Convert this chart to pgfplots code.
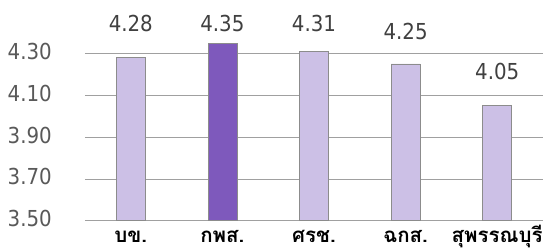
\documentclass[border=0pt]{standalone}
\usepackage{pgfplots}
\pgfplotsset{compat=1.18}
\usepackage{fontspec}
\setmainfont{DejaVu Sans Condensed}
\newfontfamily\thaifont[Script=Thai]{Loma}
\definecolor{lightbar}{RGB}{204,192,230}
\definecolor{darkbar}{RGB}{126,89,188}
\definecolor{tickgray}{RGB}{89,89,89}
\definecolor{valgray}{RGB}{64,64,64}
\definecolor{gridgray}{RGB}{160,160,160}
\begin{document}
\begin{tikzpicture}
\begin{axis}[
  at={(0,0)}, anchor=south west,
  scale only axis, width=458pt, height=209pt,
  xmin=-0.5, xmax=4.5, ymin=3.5, ymax=4.5,
  ytick={3.5,3.7,3.9,4.1,4.3},
  yticklabel style={/pgf/number format/fixed,/pgf/number format/fixed zerofill,/pgf/number format/precision=2,/pgf/number format/assume math mode=true,
    font=\fontsize{22}{26}\selectfont, text=tickgray, anchor=east, inner sep=0pt, xshift=-33pt, yshift=2pt},
  xtick={0,1,2,3,4},
  xticklabels={บข.,กพส.,ศรช.,ฉกส.,สุพรรณบุรี},
  xticklabel style={font=\thaifont\bfseries\fontsize{20.5}{24}\selectfont, text=black, anchor=base, inner sep=0pt, yshift=-21.5pt},
  axis line style={draw=none},
  major tick length=0pt,
  ymajorgrids, grid style={gridgray, line width=0.8pt},
  clip=false,
]
\addplot[ybar, bar shift=0pt, bar width=29pt, fill=lightbar, draw=gray!90, line width=0.6pt] coordinates {(0,4.28) (2,4.31) (3,4.25) (4,4.05)};
\addplot[ybar, bar shift=0pt, bar width=29pt, fill=darkbar, draw=gray!90, line width=0.6pt] coordinates {(1,4.35)};
\addplot[draw=none, mark=none, nodes near coords, point meta=explicit symbolic,
  every node near coord/.append style={anchor=center, inner sep=0pt, text=valgray, font=\fontsize{22}{26}\selectfont}]
  coordinates {(0,4.443) [4.28] (1,4.443) [4.35] (2,4.443) [4.31] (3,4.405) [4.25] (4,4.214) [4.05]};
\end{axis}
\pgfresetboundingbox
\useasboundingbox (-85pt,-29.3pt) rectangle (469pt,220.7pt);
\end{tikzpicture}
\end{document}
